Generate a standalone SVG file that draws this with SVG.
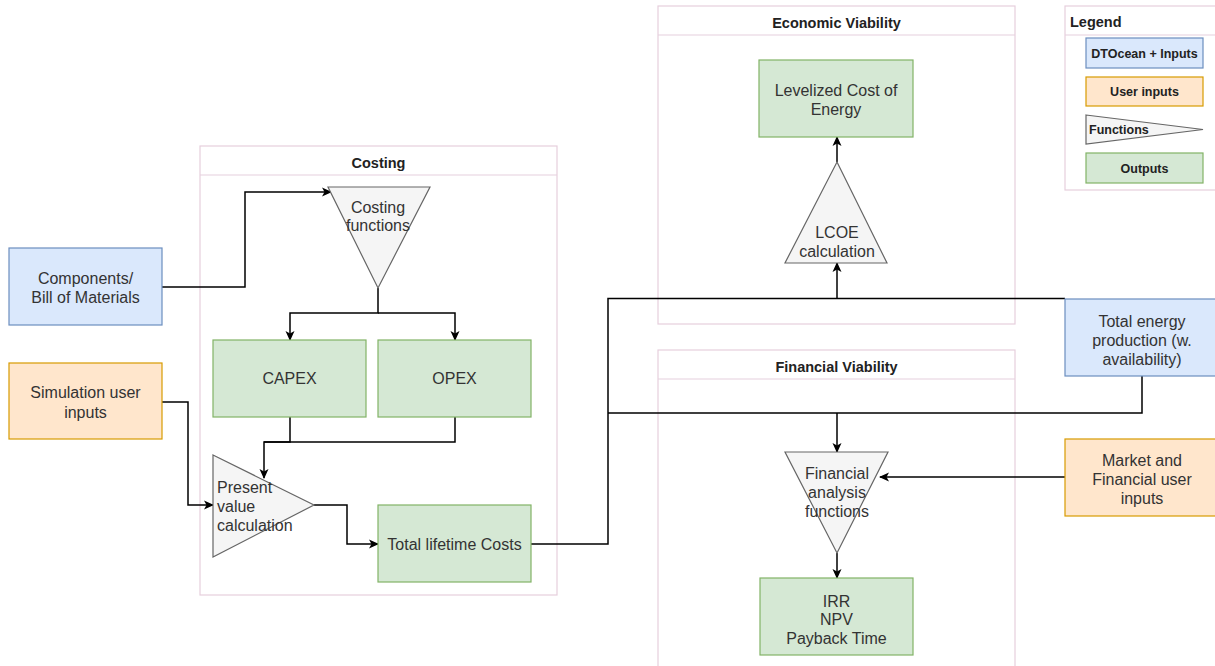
<svg xmlns="http://www.w3.org/2000/svg" width="1215" height="666" viewBox="0 0 1215 666">
  <style>
    .bg { fill: #ffffff; }
    .pool { fill: #ffffff; stroke: #e6cfdd; stroke-width: 1.2; }
    .poolhead { fill: none; stroke: #e6cfdd; stroke-width: 1.2; }
    .blue { fill: #dae8fc; stroke: #6c8ebf; stroke-width: 1.2; }
    .orange { fill: #ffe6cc; stroke: #d79b00; stroke-width: 1.2; }
    .green { fill: #d5e8d4; stroke: #82b366; stroke-width: 1.2; }
    .func { fill: #f5f5f5; stroke: #666666; stroke-width: 1.2; }
    .t { font-family: "Liberation Sans", Arial, sans-serif; font-size: 16px; fill: #333333; text-anchor: middle; }
    .tl { font-family: "Liberation Sans", Arial, sans-serif; font-size: 16px; fill: #333333; text-anchor: start; }
    .title { font-family: "Liberation Sans", Arial, sans-serif; font-size: 14.5px; font-weight: bold; fill: #222222; text-anchor: middle; }
    .lg { font-family: "Liberation Sans", Arial, sans-serif; font-size: 12.5px; font-weight: bold; fill: #222222; text-anchor: middle; }
    .edge { fill: none; stroke: #000000; stroke-width: 1.5; }
  </style>
  <defs>
    <marker id="arrow" viewBox="0 0 10 10" refX="9" refY="5" markerWidth="10" markerHeight="10" markerUnits="userSpaceOnUse" orient="auto">
      <path d="M0,0.5 L10,5 L0,9.5 L2.5,5 Z" fill="#000000"/>
    </marker>
  </defs>

  <rect class="bg" x="0" y="0" width="1215" height="666"/>

  <!-- Swimlane containers -->
  <g id="costing-pool">
    <rect class="pool" x="200" y="146" width="357" height="449"/>
    <line class="poolhead" x1="200" y1="175" x2="557" y2="175"/>
    <text class="title" x="378.5" y="168">Costing</text>
  </g>
  <g id="economic-pool">
    <rect class="pool" x="658" y="6" width="357" height="318"/>
    <line class="poolhead" x1="658" y1="35" x2="1015" y2="35"/>
    <text class="title" x="836.5" y="28">Economic Viability</text>
  </g>
  <g id="financial-pool">
    <rect class="pool" x="658" y="350" width="357" height="330"/>
    <line class="poolhead" x1="658" y1="379" x2="1015" y2="379"/>
    <text class="title" x="836.5" y="372">Financial Viability</text>
  </g>

  <!-- Legend -->
  <g id="legend">
    <rect class="pool" x="1065" y="6" width="160" height="184"/>
    <line class="poolhead" x1="1065" y1="35" x2="1225" y2="35"/>
    <text class="title" x="1070" y="27" style="text-anchor:start">Legend</text>
    <rect class="blue" x="1086" y="38" width="117" height="30"/>
    <text class="lg" x="1144.5" y="57.5">DTOcean + Inputs</text>
    <rect class="orange" x="1086" y="77" width="117" height="29"/>
    <text class="lg" x="1144.5" y="96">User inputs</text>
    <polygon class="func" points="1086,115 1203,129.5 1086,144"/>
    <text class="lg" x="1089" y="134" style="text-anchor:start">Functions</text>
    <rect class="green" x="1086" y="153" width="117" height="30"/>
    <text class="lg" x="1144.5" y="172.5">Outputs</text>
  </g>

  <!-- Connectors -->
  <g id="connectors">
    <path class="edge" d="M162,287 H245 V192 H331" marker-end="url(#arrow)"/>
    <path class="edge" d="M378,288 V313 H290 V340" marker-end="url(#arrow)"/>
    <path class="edge" d="M378,313 H455 V340" marker-end="url(#arrow)"/>
    <path class="edge" d="M290,417 V442 H264 V478" marker-end="url(#arrow)"/>
    <path class="edge" d="M455,417 V442 H264"/>
    <path class="edge" d="M162,402 H188 V505 H213" marker-end="url(#arrow)"/>
    <path class="edge" d="M314,505 H347 V544 H378" marker-end="url(#arrow)"/>
    <path class="edge" d="M531,544 H608 V298.5 H1065"/>
    <path class="edge" d="M1142,376 V413 H608"/>
    <path class="edge" d="M837,298.5 V263" marker-end="url(#arrow)"/>
    <path class="edge" d="M837,162 V137" marker-end="url(#arrow)"/>
    <path class="edge" d="M837,413 V452" marker-end="url(#arrow)"/>
    <path class="edge" d="M1065,477 H880" marker-end="url(#arrow)"/>
    <path class="edge" d="M837,553 V578" marker-end="url(#arrow)"/>
  </g>

  <!-- Input nodes -->
  <g id="components">
    <rect class="blue" x="9" y="248" width="153" height="77"/>
    <text class="t" x="85.5" y="284">Components/</text>
    <text class="t" x="85.5" y="303">Bill of Materials</text>
  </g>
  <g id="simulation-inputs">
    <rect class="orange" x="9" y="363" width="153" height="76"/>
    <text class="t" x="85.5" y="398">Simulation user</text>
    <text class="t" x="85.5" y="418">inputs</text>
  </g>
  <g id="total-energy">
    <rect class="blue" x="1065" y="299" width="160" height="77"/>
    <text class="t" x="1142" y="326.5">Total energy</text>
    <text class="t" x="1142" y="345.5">production (w.</text>
    <text class="t" x="1142" y="364.5">availability)</text>
  </g>
  <g id="market-inputs">
    <rect class="orange" x="1065" y="439" width="160" height="77"/>
    <text class="t" x="1142" y="465.5">Market and</text>
    <text class="t" x="1142" y="484.5">Financial user</text>
    <text class="t" x="1142" y="503.5">inputs</text>
  </g>

  <!-- Costing nodes -->
  <g id="costing-functions">
    <polygon class="func" points="328,187 430,187 378,288"/>
    <text class="t" x="378" y="212.5">Costing</text>
    <text class="t" x="378" y="231">functions</text>
  </g>
  <g id="capex">
    <rect class="green" x="213" y="340" width="153" height="77"/>
    <text class="t" x="289.5" y="384">CAPEX</text>
  </g>
  <g id="opex">
    <rect class="green" x="378" y="340" width="153" height="77"/>
    <text class="t" x="454.5" y="384">OPEX</text>
  </g>
  <g id="present-value">
    <polygon class="func" points="213,455 314,505 213,557"/>
    <text class="tl" x="217" y="492.5">Present</text>
    <text class="tl" x="217" y="512">value</text>
    <text class="tl" x="217" y="531">calculation</text>
  </g>
  <g id="total-lifetime-costs">
    <rect class="green" x="378" y="505" width="153" height="77"/>
    <text class="t" x="454.5" y="549.5">Total lifetime Costs</text>
  </g>

  <!-- Economic viability nodes -->
  <g id="lcoe-calculation">
    <polygon class="func" points="837,162 887,263 785,263"/>
    <text class="t" x="837" y="237.5">LCOE</text>
    <text class="t" x="837" y="256.5">calculation</text>
  </g>
  <g id="lcoe">
    <rect class="green" x="759" y="60" width="154" height="77"/>
    <text class="t" x="836" y="95.5">Levelized Cost of</text>
    <text class="t" x="836" y="114.5">Energy</text>
  </g>

  <!-- Financial viability nodes -->
  <g id="financial-functions">
    <polygon class="func" points="785,452 888,452 837,553"/>
    <text class="t" x="837" y="478.5">Financial</text>
    <text class="t" x="837" y="497.5">analysis</text>
    <text class="t" x="837" y="516.5">functions</text>
  </g>
  <g id="financial-outputs">
    <rect class="green" x="760" y="578" width="153" height="77"/>
    <text class="t" x="836.5" y="606.5">IRR</text>
    <text class="t" x="836.5" y="625">NPV</text>
    <text class="t" x="836.5" y="643.5">Payback Time</text>
  </g>
</svg>
